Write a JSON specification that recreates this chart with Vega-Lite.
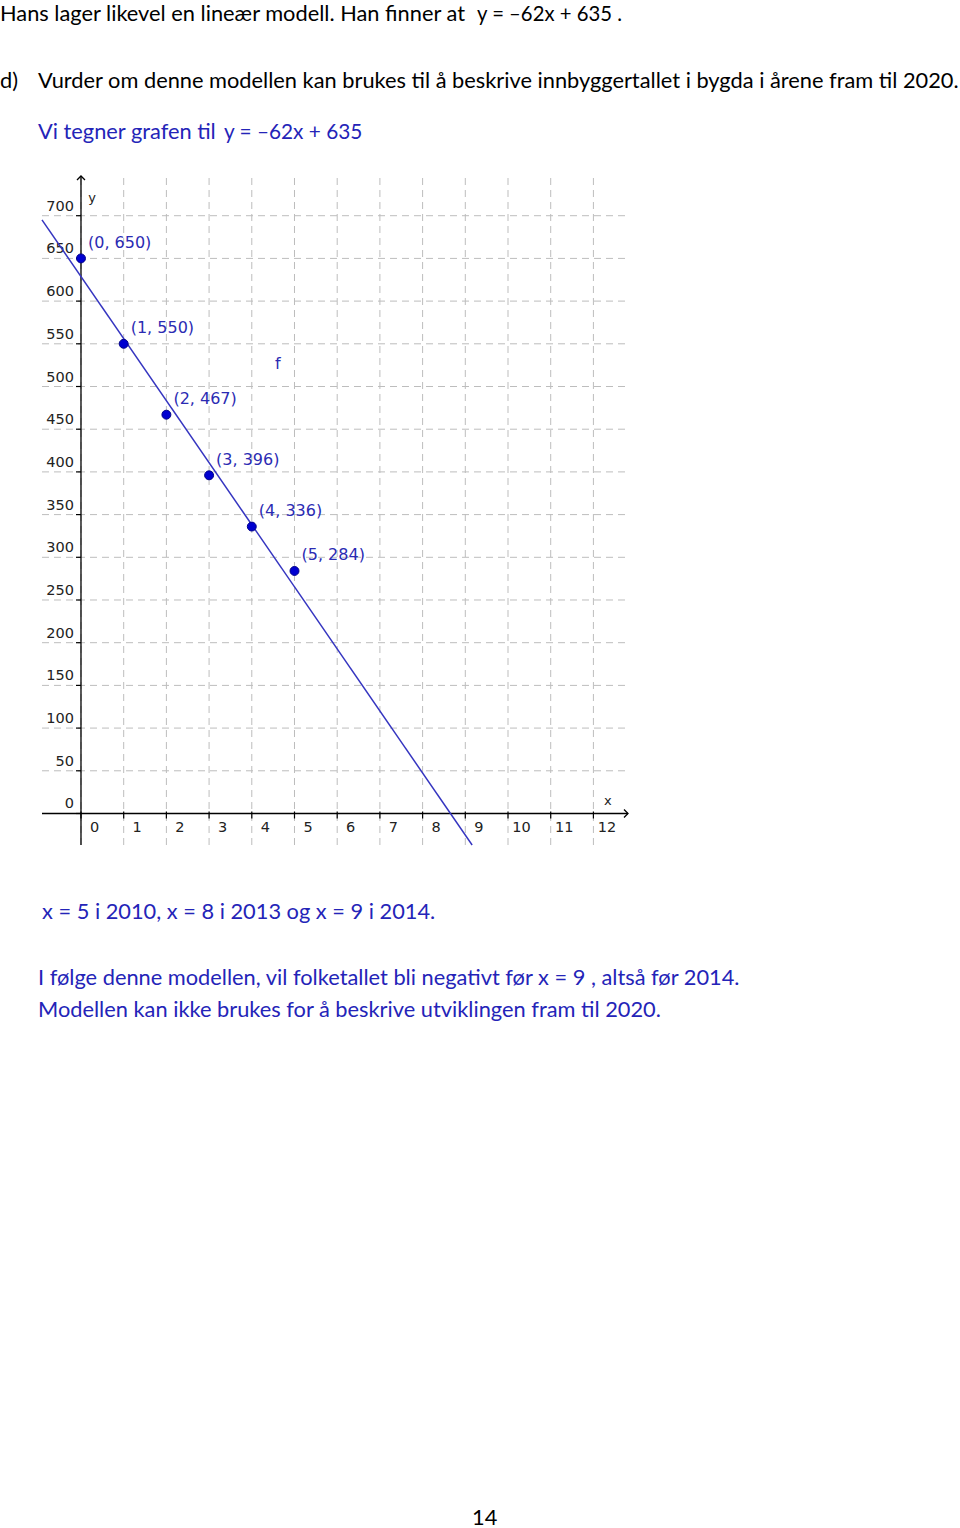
{
  "$schema": "https://vega.github.io/schema/vega-lite/v6.json",
  "width": 586,
  "height": 669,
  "autosize": {"type": "none"},
  "padding": {"left": 42, "top": 176, "right": 332, "bottom": 683},
  "background": "white",
  "config": {"view": {"stroke": null}},
  "datasets": {
    "points": [
      {"x": 0, "y": 650, "label": "(0, 650)"},
      {"x": 1, "y": 550, "label": "(1, 550)"},
      {"x": 2, "y": 467, "label": "(2, 467)"},
      {"x": 3, "y": 396, "label": "(3, 396)"},
      {"x": 4, "y": 336, "label": "(4, 336)"},
      {"x": 5, "y": 284, "label": "(5, 284)"}
    ],
    "fline": [
      {"x": -0.913, "y": 695.1},
      {"x": 9.16, "y": -36.9}
    ],
    "xticks": [
      {"v": 0}, {"v": 1}, {"v": 2}, {"v": 3}, {"v": 4}, {"v": 5}, {"v": 6},
      {"v": 7}, {"v": 8}, {"v": 9}, {"v": 10}, {"v": 11}, {"v": 12}
    ],
    "yticks": [
      {"v": 0}, {"v": 50}, {"v": 100}, {"v": 150}, {"v": 200}, {"v": 250}, {"v": 300}, {"v": 350},
      {"v": 400}, {"v": 450}, {"v": 500}, {"v": 550}, {"v": 600}, {"v": 650}, {"v": 700}
    ],
    "blackText": [
      {"x": -1.897, "y": 928.0, "text": "Hans lager likevel en lineær modell. Han finner at"},
      {"x": -1.897, "y": 849.5, "text": "d)"},
      {"x": -1.007, "y": 849.5, "text": "Vurder om denne modellen kan brukes til å beskrive innbyggertallet i bygda i årene fram til 2020."},
      {"x": 9.157, "y": -833.1, "text": "14"}
    ],
    "blackMath": [
      {"x": 9.274, "y": 928.0, "text": "y = –62x + 635 ."}
    ],
    "blueText": [
      {"x": -1.007, "y": 789.8, "text": "Vi tegner grafen til"},
      {"x": -0.913, "y": -123.5, "text": "x = 5  i 2010,  x = 8  i 2013 og  x = 9  i 2014."},
      {"x": -1.007, "y": -200.8, "text": "I følge denne modellen, vil folketallet bli negativt før  x = 9 , altså før 2014."},
      {"x": -1.007, "y": -238.3, "text": "Modellen kan ikke brukes for å beskrive utviklingen fram til 2020."}
    ],
    "blueMath": [
      {"x": 3.349, "y": 789.8, "text": "y = –62x + 635"}
    ],
    "fname": [{"x": 4.61, "y": 526, "text": "f"}]
  },
  "layer": [
    {
      "data": {"name": "xticks"},
      "mark": {"type": "rule", "color": "#bdbdbd", "strokeWidth": 1, "strokeDash": [7, 5]},
      "encoding": {
        "x": {"field": "v", "type": "quantitative", "axis": null,
              "scale": {"domain": [-0.913, 12.81], "nice": false, "zero": false}},
        "y": {"datum": -36.9, "type": "quantitative", "axis": null,
              "scale": {"domain": [-36.9, 746.5], "nice": false, "zero": false}},
        "y2": {"datum": 746.5}
      }
    },
    {
      "data": {"name": "yticks"},
      "mark": {"type": "rule", "color": "#bdbdbd", "strokeWidth": 1, "strokeDash": [7, 5]},
      "encoding": {
        "x": {"datum": -0.913, "type": "quantitative", "axis": null},
        "x2": {"datum": 12.81},
        "y": {"field": "v", "type": "quantitative", "axis": null}
      }
    },
    {
      "data": {"values": [{}]},
      "mark": {"type": "rule", "color": "black", "strokeWidth": 1.3},
      "encoding": {
        "x": {"datum": -0.913, "type": "quantitative", "axis": null},
        "x2": {"datum": 12.81},
        "y": {"datum": 0, "type": "quantitative", "axis": null}
      }
    },
    {
      "data": {"values": [{}]},
      "mark": {"type": "rule", "color": "black", "strokeWidth": 1.3},
      "encoding": {
        "x": {"datum": 0, "type": "quantitative", "axis": null},
        "y": {"datum": -36.9, "type": "quantitative", "axis": null},
        "y2": {"datum": 746.5}
      }
    },
    {
      "data": {"name": "xticks"},
      "mark": {"type": "tick", "orient": "vertical", "size": 7, "thickness": 1.2, "color": "black", "opacity": 1, "yOffset": 1.5},
      "encoding": {
        "x": {"field": "v", "type": "quantitative", "axis": null},
        "y": {"datum": 0, "type": "quantitative", "axis": null}
      }
    },
    {
      "data": {"name": "yticks"},
      "mark": {"type": "tick", "orient": "horizontal", "size": 5, "thickness": 1.2, "color": "black", "opacity": 1, "xOffset": -2.5},
      "encoding": {
        "x": {"datum": 0, "type": "quantitative", "axis": null},
        "y": {"field": "v", "type": "quantitative", "axis": null}
      }
    },
    {
      "data": {"name": "xticks"},
      "mark": {"type": "text", "font": "DejaVu Sans", "fontSize": 14.5, "color": "#222222", "align": "center", "baseline": "middle", "dx": 13.5, "dy": 15},
      "encoding": {
        "x": {"field": "v", "type": "quantitative", "axis": null},
        "y": {"datum": 0, "type": "quantitative", "axis": null},
        "text": {"field": "v", "type": "quantitative"}
      }
    },
    {
      "data": {"name": "yticks"},
      "mark": {"type": "text", "font": "DejaVu Sans", "fontSize": 14.5, "color": "#222222", "align": "right", "baseline": "middle", "dx": -7, "dy": -9},
      "encoding": {
        "x": {"datum": 0, "type": "quantitative", "axis": null},
        "y": {"field": "v", "type": "quantitative", "axis": null},
        "text": {"field": "v", "type": "quantitative"}
      }
    },
    {
      "data": {"values": [{}]},
      "mark": {"type": "point", "shape": "M-1,-1L0,0L-1,1", "size": 64, "filled": false, "stroke": "black", "strokeWidth": 1.3, "opacity": 1},
      "encoding": {
        "x": {"datum": 12.81, "type": "quantitative", "axis": null},
        "y": {"datum": 0, "type": "quantitative", "axis": null}
      }
    },
    {
      "data": {"values": [{}]},
      "mark": {"type": "point", "shape": "M-1,1L0,0L1,1", "size": 64, "filled": false, "stroke": "black", "strokeWidth": 1.3, "opacity": 1},
      "encoding": {
        "x": {"datum": 0, "type": "quantitative", "axis": null},
        "y": {"datum": 746.5, "type": "quantitative", "axis": null}
      }
    },
    {
      "data": {"values": [{}]},
      "mark": {"type": "text", "text": "x", "font": "DejaVu Sans", "fontSize": 13, "color": "#222222", "align": "center", "baseline": "middle"},
      "encoding": {
        "x": {"datum": 12.34, "type": "quantitative", "axis": null},
        "y": {"datum": 14.6, "type": "quantitative", "axis": null}
      }
    },
    {
      "data": {"values": [{}]},
      "mark": {"type": "text", "text": "y", "font": "DejaVu Sans", "fontSize": 13, "color": "#222222", "align": "center", "baseline": "middle", "dx": 11},
      "encoding": {
        "x": {"datum": 0, "type": "quantitative", "axis": null},
        "y": {"datum": 720.7, "type": "quantitative", "axis": null}
      }
    },
    {
      "data": {"name": "fline"},
      "mark": {"type": "line", "color": "#3535c0", "strokeWidth": 1.5},
      "encoding": {
        "x": {"field": "x", "type": "quantitative", "axis": null},
        "y": {"field": "y", "type": "quantitative", "axis": null}
      }
    },
    {
      "data": {"name": "points"},
      "mark": {"type": "point", "filled": true, "size": 80, "color": "#0000d0", "stroke": "#00008a", "strokeWidth": 1, "opacity": 1},
      "encoding": {
        "x": {"field": "x", "type": "quantitative", "axis": null},
        "y": {"field": "y", "type": "quantitative", "axis": null}
      }
    },
    {
      "data": {"name": "points"},
      "mark": {"type": "text", "font": "DejaVu Sans", "fontSize": 16, "color": "#2b2bb3", "align": "left", "baseline": "middle", "dx": 7, "dy": -15.5},
      "encoding": {
        "x": {"field": "x", "type": "quantitative", "axis": null},
        "y": {"field": "y", "type": "quantitative", "axis": null},
        "text": {"field": "label"}
      }
    },
    {
      "data": {"name": "fname"},
      "mark": {"type": "text", "font": "DejaVu Sans", "fontSize": 16, "color": "#2b2bb3", "align": "center", "baseline": "middle"},
      "encoding": {
        "x": {"field": "x", "type": "quantitative", "axis": null},
        "y": {"field": "y", "type": "quantitative", "axis": null},
        "text": {"field": "text"}
      }
    },
    {
      "data": {"name": "blackText"},
      "mark": {"type": "text", "font": "Lato", "fontSize": 21.8, "color": "black", "align": "left", "baseline": "alphabetic"},
      "encoding": {
        "x": {"field": "x", "type": "quantitative", "axis": null},
        "y": {"field": "y", "type": "quantitative", "axis": null},
        "text": {"field": "text"}
      }
    },
    {
      "data": {"name": "blackMath"},
      "mark": {"type": "text", "font": "Lato", "fontSize": 20.3, "color": "black", "align": "left", "baseline": "alphabetic"},
      "encoding": {
        "x": {"field": "x", "type": "quantitative", "axis": null},
        "y": {"field": "y", "type": "quantitative", "axis": null},
        "text": {"field": "text"}
      }
    },
    {
      "data": {"name": "blueText"},
      "mark": {"type": "text", "font": "Lato", "fontSize": 21.8, "color": "#2424b8", "align": "left", "baseline": "alphabetic"},
      "encoding": {
        "x": {"field": "x", "type": "quantitative", "axis": null},
        "y": {"field": "y", "type": "quantitative", "axis": null},
        "text": {"field": "text"}
      }
    },
    {
      "data": {"name": "blueMath"},
      "mark": {"type": "text", "font": "Lato", "fontSize": 20.8, "color": "#2424b8", "align": "left", "baseline": "alphabetic"},
      "encoding": {
        "x": {"field": "x", "type": "quantitative", "axis": null},
        "y": {"field": "y", "type": "quantitative", "axis": null},
        "text": {"field": "text"}
      }
    }
  ]
}
